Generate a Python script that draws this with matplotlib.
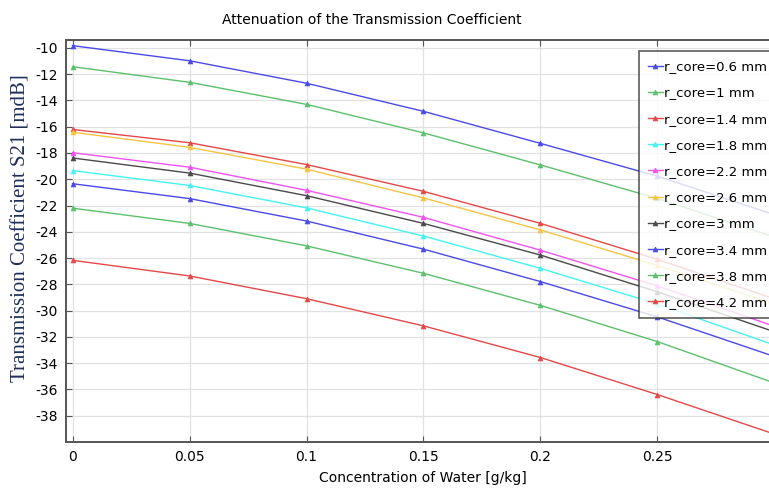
import matplotlib
matplotlib.use("Agg")
import matplotlib.pyplot as plt
import numpy as np

# concentration of water [g/kg]
conc = [0.0, 0.05, 0.10, 0.15, 0.20, 0.25, 0.30]

labels = [
    "r_core=0.6 mm", "r_core=1 mm", "r_core=1.4 mm", "r_core=1.8 mm",
    "r_core=2.2 mm", "r_core=2.6 mm", "r_core=3 mm", "r_core=3.4 mm",
    "r_core=3.8 mm", "r_core=4.2 mm",
]

# S21 [mdB]
s21_r06 = [-9.83, -10.98, -12.69, -14.83, -17.27, -19.77, -22.7]
s21_r10 = [-11.43, -12.62, -14.30, -16.47, -18.91, -21.46, -24.4]
s21_r14 = [-16.21, -17.22, -18.88, -20.92, -23.36, -26.10, -29.1]
s21_r18 = [-19.34, -20.47, -22.18, -24.32, -26.78, -29.50, -32.62]
s21_r22 = [-17.98, -19.08, -20.84, -22.90, -25.40, -28.12, -31.19]
s21_r26 = [-16.42, -17.57, -19.23, -21.42, -23.86, -26.56, -29.5]
s21_r30 = [-18.38, -19.53, -21.25, -23.36, -25.77, -28.57, -31.61]
s21_r34 = [-20.34, -21.47, -23.18, -25.32, -27.79, -30.48, -33.49]
s21_r38 = [-22.20, -23.36, -25.07, -27.16, -29.60, -32.36, -35.51]
s21_r42 = [-26.17, -27.36, -29.09, -31.16, -33.57, -36.39, -39.40]

series = [s21_r06, s21_r10, s21_r14, s21_r18, s21_r22,
          s21_r26, s21_r30, s21_r34, s21_r38, s21_r42]
colors = ["#4a4ae6", "#5cc06c", "#e44848", "#45f2f2", "#f052f0",
          "#f6c444", "#4a4a4a", "#4a4ae6", "#5cc06c", "#e44848"]

x_ticks = [0, 0.05, 0.1, 0.15, 0.2, 0.25]
x_ticklabels = ["0", "0.05", "0.1", "0.15", "0.2", "0.25"]
y_ticks = np.arange(-38, -9, 2)


def main() -> None:
    fig = plt.figure(figsize=(7.69, 4.90), dpi=100, facecolor="white")
    ax = fig.add_axes([66 / 769, 48 / 490, (781 - 66) / 769, 402 / 490])

    for vals, col, lab in zip(series, colors, labels):
        ax.plot(conc, vals, color=col, lw=1.0, marker="^", ms=3.5,
                markeredgewidth=0.5, label=lab)

    ax.set_xlim(-0.0028, 0.3028)
    ax.set_ylim(-40, -9.4)
    ax.set_xticks(x_ticks)
    ax.set_xticklabels(x_ticklabels)
    ax.set_yticks(y_ticks)
    ax.set_yticklabels([f"{v:d}" for v in y_ticks])
    ax.tick_params(direction="in", top=True, right=True, length=4,
                   labelsize=10, color="#555555", pad=6)
    ax.grid(True, color="#e2e2e2", lw=0.9)
    ax.set_axisbelow(True)
    for sp in ax.spines.values():
        sp.set_color("#555555")
        sp.set_linewidth(1.4)

    fig.text(372 / 769, 1 - 20 / 490, "Attenuation of the Transmission Coefficient",
             ha="center", va="center", fontsize=10)
    fig.text(423 / 769, 1 - 478 / 490, "Concentration of Water [g/kg]",
             ha="center", va="center", fontsize=10)
    fig.text(21 / 769, 1 - 228 / 490, "Transmission Coefficient S21 [mdB]",
             ha="center", va="center", rotation=90, fontsize=15,
             family="Liberation Serif", color="#1f2f5c")

    leg = fig.legend(loc="upper left", bbox_to_anchor=(639 / 769, 1 - 51 / 490),
                     borderaxespad=0, fontsize=9.5, frameon=True, fancybox=False,
                     edgecolor="#333333", handlelength=1.1, handletextpad=0.1,
                     labelspacing=1.0, borderpad=0.7)
    leg.get_frame().set_linewidth(1.2)

    fig.savefig("out.png", dpi=100, facecolor="white")
    plt.close(fig)


if __name__ == "__main__":
    main()
